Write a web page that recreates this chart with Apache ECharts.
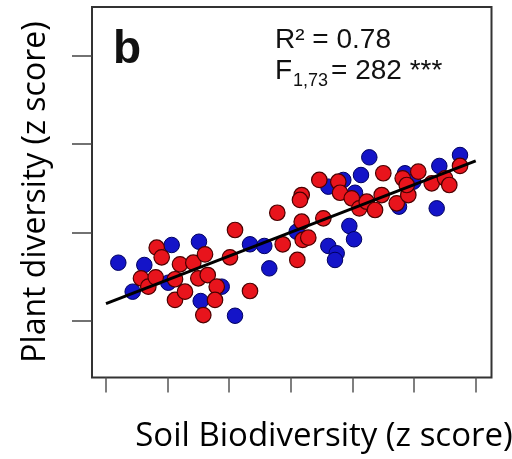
<!DOCTYPE html>
<html>
<head>
<meta charset="utf-8">
<script src="https://cdn.jsdelivr.net/npm/echarts@6/dist/echarts.min.js"></script>
<style>
html,body{margin:0;padding:0;background:#fff;}
#chart{width:512px;height:459px;}
</style>
</head>
<body>
<div id="chart"></div>
<script>
// Data (z scores)
const blueX = [-2.80,-2.378,-1.934,-1.491,-2.567,-1.989,-1.463,-1.122,-0.906,-0.663,-0.431,-0.350,0.095,0.608,0.744,0.716,0.949,1.025,1.273,1.138,0.608,0.851,1.041,1.755,1.852,2.367,2.409,2.745,1.987];
const blueY = [-0.345,-0.371,-0.144,-0.107,-0.674,-0.572,-0.780,-0.617,-0.947,-0.136,-0.155,-0.409,0.007,-0.155,-0.238,-0.314,0.072,-0.079,0.851,0.650,0.518,0.594,0.449,0.291,0.670,0.272,0.753,0.877,0.574];
const redX = [-2.177,-2.096,-2.432,-2.313,-2.193,-1.880,-1.718,-1.880,-1.799,-1.583,-1.393,-1.502,-1.349,-1.203,-1.231,-1.421,-0.988,-0.906,-0.663,-0.220,-0.132,0.105,0.176,0.192,0.283,0.176,0.148,0.527,0.462,0.770,0.798,0.988,1.111,1.231,1.366,1.474,1.500,1.718,1.815,1.906,1.880,2.068,2.286,2.502,2.571,2.745];
const redY = [-0.175,-0.284,-0.522,-0.617,-0.511,-0.768,-0.674,-0.533,-0.363,-0.345,-0.250,-0.522,-0.485,-0.617,-0.768,-0.939,-0.284,0.026,-0.666,0.222,-0.136,-0.314,0.120,-0.087,-0.061,0.423,0.367,0.159,0.594,0.574,0.449,0.386,0.272,0.347,0.253,0.423,0.670,0.329,0.613,0.423,0.537,0.688,0.556,0.613,0.537,0.753];
const fitX = [-3.0, 3.0];
const fitY = [-0.81, 0.81];
const xTicks = [-3,-2,-1,0,1,2,3];
const yTicks = [-1,0,1,2];
const xTitle = 'Soil Biodiversity (z score)';
const yTitle = 'Plant diversity (z score)';

const zip = (a,b) => a.map((v,i)=>[v,b[i]]);

const chart = echarts.init(document.getElementById('chart'), null, {renderer:'canvas'});
chart.setOption({
  animation:false,
  backgroundColor:'#fff',
  grid:{left:92, top:7, width:399.5, height:370.5, show:true, borderColor:'#333', borderWidth:2, backgroundColor:'transparent'},
  xAxis:{type:'value', min:-3.227, max:3.256, position:'bottom', splitLine:{show:false},
    axisLine:{show:false, onZero:false},
    axisTick:{show:true, inside:false, length:15, customValues:xTicks, lineStyle:{color:'#555', width:1.5}},
    axisLabel:{show:false}},
  yAxis:{type:'value', min:-1.648, max:2.557, position:'left', splitLine:{show:false},
    axisLine:{show:false, onZero:false},
    axisTick:{show:true, inside:false, length:20, customValues:yTicks, lineStyle:{color:'#444', width:1.5}},
    axisLabel:{show:false}},
  series:[
    {type:'scatter', data:zip(blueX,blueY), symbolSize:15.5,
      itemStyle:{color:'#1414c8', borderColor:'#000060', borderWidth:1, opacity:1}},
    {type:'scatter', data:zip(redX,redY), symbolSize:15.5,
      itemStyle:{color:'#e8141c', borderColor:'#4a0000', borderWidth:1.2, opacity:1}},
    {type:'line', data:zip(fitX,fitY), symbol:'none', lineStyle:{color:'#000', width:3}, z:5}
  ],
  graphic:[
    {type:'text', style:{x:113, y:50, text:'b', font:'bold 46px "Liberation Sans", Arial', fill:'#111', verticalAlign:'middle'}},
    {type:'text', style:{x:275, y:40, text:'R² = 0.78', font:'28px "Liberation Sans", Arial', fill:'#111', verticalAlign:'middle'}},
    {type:'text', style:{x:275, y:71, text:'F', font:'28px "Liberation Sans", Arial', fill:'#111', verticalAlign:'middle'}},
    {type:'text', style:{x:293, y:81, text:'1,73', font:'18px "Liberation Sans", Arial', fill:'#111', verticalAlign:'middle'}},
    {type:'text', style:{x:331, y:71, text:'= 282 ***', font:'28px "Liberation Sans", Arial', fill:'#111', verticalAlign:'middle'}},
    {type:'text', style:{x:324, y:437, text:xTitle, font:'33px "Open Sans"', fill:'#000', align:'center', verticalAlign:'middle'}},
    {type:'text', x:36, y:192, rotation:Math.PI/2, style:{x:0, y:0, text:yTitle, font:'32px "Open Sans"', fill:'#000', align:'center', verticalAlign:'middle'}}
  ]
});
</script>
</body>
</html>
